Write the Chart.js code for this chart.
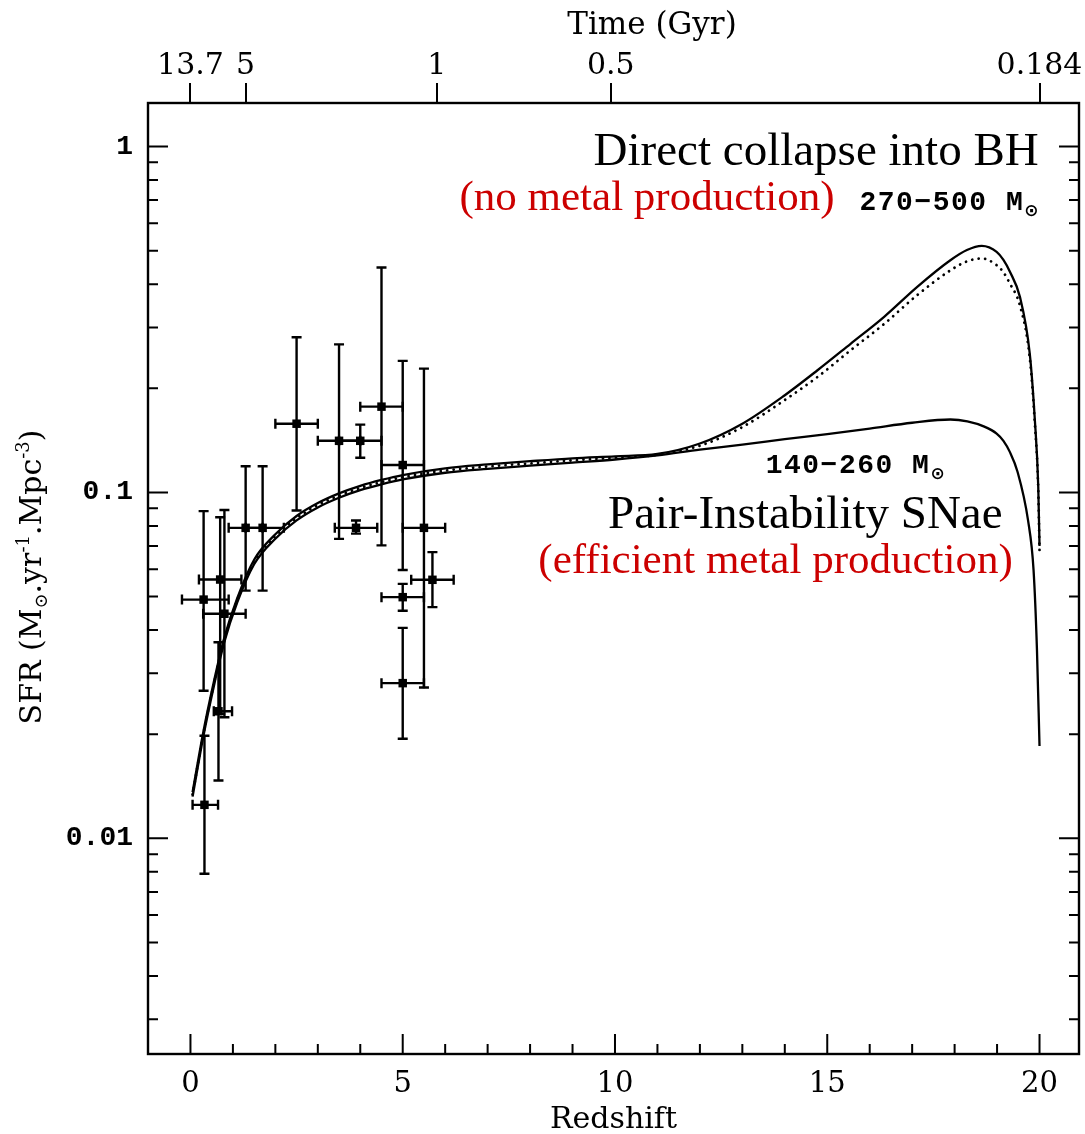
<!DOCTYPE html>
<html lang="en">
<head>
<meta charset="UTF-8">
<title>SFR vs redshift</title>
<script src="https://cdn.jsdelivr.net/npm/chart.js"></script>
<style>
  html, body { margin: 0; padding: 0; background: #fff; }
  #wrap { width: 1085px; height: 1134px; }
</style>
</head>
<body>
<div id="wrap"><canvas id="sfrChart" width="1085" height="1134"></canvas></div>
<script>
// observed SFR points (redshift, SFR) with their error ranges
const obsZ      = [0.33, 0.31, 0.70, 0.80, 0.66, 1.30, 1.70, 2.50, 3.50, 4.00, 3.90, 4.50, 5.00, 5.50, 5.70, 5.00, 5.00];
const obsZLo    = [0.05, -0.20, 0.20, 0.30, 0.55, 0.90, 1.30, 2.00, 3.00, 3.50, 3.40, 4.00, 4.50, 5.00, 5.20, 4.50, 4.50];
const obsZHi    = [0.65, 0.90, 1.20, 1.30, 0.98, 1.70, 2.20, 3.00, 4.00, 4.50, 4.40, 5.00, 5.50, 6.00, 6.20, 5.50, 5.50];
const obsSfr    = [0.0125, 0.0490, 0.0560, 0.0446, 0.0233, 0.0790, 0.0790, 0.158, 0.141, 0.141, 0.0790, 0.177, 0.120, 0.0790, 0.0559, 0.0498, 0.0281];
const obsSfrLo  = [0.0079, 0.0267, 0.0229, 0.0224, 0.0147, 0.0520, 0.0520, 0.0887, 0.0734, 0.126, 0.0760, 0.0703, 0.0597, 0.0273, 0.0466, 0.0455, 0.0194];
const obsSfrHi  = [0.0198, 0.0883, 0.0848, 0.0890, 0.0369, 0.119, 0.119, 0.281, 0.268, 0.157, 0.0830, 0.447, 0.240, 0.228, 0.0672, 0.0544, 0.0406];

// model: 140-260 Msun (pair-instability SNe)
const pisnZ   = [0.05, 0.3, 0.55, 0.8, 1.1, 1.5, 2.0, 2.5, 3.0, 3.5, 4.0, 4.5, 5.0, 6.0, 7.0, 8.0, 9.0, 10.0, 11.0, 12.0, 13.0, 14.0, 15.0, 16.0, 17.0, 17.9, 18.3, 18.7, 18.99, 19.15, 19.3, 19.48, 19.73, 19.86, 19.94, 20.0];
const pisnSfr = [0.0132, 0.0196, 0.0275, 0.0370, 0.0480, 0.0620, 0.0735, 0.0830, 0.0905, 0.0965, 0.1015, 0.1055, 0.1090, 0.1140, 0.1170, 0.1195, 0.1220, 0.1245, 0.1280, 0.1330, 0.1375, 0.1425, 0.1475, 0.1530, 0.1590, 0.1625, 0.1605, 0.1550, 0.1480, 0.1410, 0.1310, 0.1150, 0.0830, 0.0595, 0.0350, 0.0185];

// model: 270-500 Msun (direct collapse), solid and dotted variants
const bhZ      = [0.05, 0.3, 0.55, 0.8, 1.1, 1.5, 2.0, 2.5, 3.0, 3.5, 4.0, 4.5, 5.0, 6.0, 7.0, 8.0, 9.0, 10.0, 11.0, 12.0, 13.0, 14.0, 14.77, 15.55, 16.34, 17.12, 17.9, 18.29, 18.64, 18.99, 19.15, 19.3, 19.54, 19.77, 19.89, 19.97, 20.0];
const bhSfr    = [0.0136, 0.0202, 0.0283, 0.0381, 0.0494, 0.0639, 0.0757, 0.0855, 0.0932, 0.0994, 0.1045, 0.1087, 0.1123, 0.1174, 0.1205, 0.1231, 0.1255, 0.1272, 0.1292, 0.1385, 0.1580, 0.1910, 0.2255, 0.2690, 0.3220, 0.3930, 0.4690, 0.5020, 0.5160, 0.4960, 0.4700, 0.4350, 0.3670, 0.2520, 0.1620, 0.1040, 0.0700];
const bhDotSfr = [0.0134, 0.0199, 0.0279, 0.0376, 0.0487, 0.0629, 0.0746, 0.0842, 0.0919, 0.0979, 0.1030, 0.1071, 0.1106, 0.1157, 0.1188, 0.1213, 0.1238, 0.1260, 0.1285, 0.1365, 0.1545, 0.1850, 0.2157, 0.2576, 0.3070, 0.3720, 0.4385, 0.4654, 0.4745, 0.4540, 0.4330, 0.4020, 0.3467, 0.2450, 0.1580, 0.1020, 0.0680];

// axis ticks
const zTicks = [0, 5, 10, 15, 20];
const sfrTicks = [0.01, 0.1, 1];
const timeTickZ = [0, 1.3, 5.8, 9.9, 20];
const timeTickLabels = ['13.7', '5', '1', '0.5', '0.184'];

const Z_MIN = -1, Z_MAX = 20.93;
const SFR_MIN = 0.00238, SFR_MAX = 1.336;

const serif = "'DejaVu Serif', 'Liberation Serif', serif";
const mono = "'Liberation Mono', monospace";
const RED = '#cc0000';

function pts(xs, ys) {
    return xs.map((v, i) => ({ x: v, y: ys[i] }));
}

// frame, inward ticks, error bars and labels
const sfrPlot = {
    id: 'sfrPlot',
    afterDatasetsDraw(chart) {
        const { ctx, chartArea: a, scales: { x, y } } = chart;
        ctx.save();
        ctx.beginPath();
        ctx.rect(a.left, a.top, a.right - a.left, a.bottom - a.top);
        ctx.clip();
        ctx.strokeStyle = '#000';
        ctx.lineWidth = 2.4;
        const cap = 5;
        obsZ.forEach((z, i) => {
            const px = x.getPixelForValue(z);
            const py = y.getPixelForValue(obsSfr[i]);
            const x0 = x.getPixelForValue(obsZLo[i]);
            const x1 = x.getPixelForValue(obsZHi[i]);
            const y0 = y.getPixelForValue(obsSfrLo[i]);
            const y1 = y.getPixelForValue(obsSfrHi[i]);
            ctx.beginPath();
            ctx.moveTo(px, y0); ctx.lineTo(px, y1);
            ctx.moveTo(px - cap, y0); ctx.lineTo(px + cap, y0);
            ctx.moveTo(px - cap, y1); ctx.lineTo(px + cap, y1);
            ctx.moveTo(x0, py); ctx.lineTo(x1, py);
            ctx.moveTo(x0, py - cap); ctx.lineTo(x0, py + cap);
            ctx.moveTo(x1, py - cap); ctx.lineTo(x1, py + cap);
            ctx.stroke();
        });
        ctx.restore();
    },
    afterDraw(chart) {
        const { ctx, chartArea: a, scales: { x, y } } = chart;
        ctx.save();
        ctx.strokeStyle = '#000';
        ctx.lineWidth = 2.4;
        ctx.strokeRect(a.left, a.top, a.right - a.left, a.bottom - a.top);

        // redshift ticks along the bottom, pointing in
        ctx.lineWidth = 2;
        ctx.beginPath();
        for (let z = 0; z <= 20; z++) {
            const px = x.getPixelForValue(z);
            const len = z % 5 === 0 ? 20 : 10;
            ctx.moveTo(px, a.bottom); ctx.lineTo(px, a.bottom - len);
        }
        // log ticks on both sides
        for (let k = -3; k <= 0; k++) {
            for (let d = 1; d <= 9; d++) {
                const v = d * Math.pow(10, k);
                if (v < SFR_MIN || v > SFR_MAX) continue;
                const py = y.getPixelForValue(v);
                const len = d === 1 ? 20 : 10;
                ctx.moveTo(a.left, py); ctx.lineTo(a.left + len, py);
                ctx.moveTo(a.right, py); ctx.lineTo(a.right - len, py);
            }
        }
        ctx.stroke();

        // top axis title
        ctx.fillStyle = '#000';
        ctx.font = '31px ' + serif;
        ctx.textAlign = 'center';
        ctx.textBaseline = 'alphabetic';
        ctx.fillText('Time (Gyr)', 652, 34);

        // y axis title
        ctx.save();
        ctx.translate(41, 577);
        ctx.rotate(-Math.PI / 2);
        const parts = [
            { t: 'SFR (M', s: 30, dy: 0 },
            { t: '\u2299', s: 18, dy: 6 },
            { t: '.yr', s: 30, dy: 0 },
            { t: '-1', s: 18, dy: -12 },
            { t: '.Mpc', s: 30, dy: 0 },
            { t: '-3', s: 18, dy: -12 },
            { t: ')', s: 30, dy: 0 }
        ];
        let total = 0;
        parts.forEach(p => { ctx.font = p.s + 'px ' + serif; p.w = ctx.measureText(p.t).width; total += p.w; });
        let cx = -total / 2;
        ctx.textAlign = 'left';
        ctx.textBaseline = 'alphabetic';
        parts.forEach(p => {
            ctx.font = p.s + 'px ' + serif;
            ctx.fillText(p.t, cx, p.dy);
            cx += p.w;
        });
        ctx.restore();

        // curve and regime labels
        const put = (text, z, v, align, font, color) => {
            ctx.font = font;
            ctx.fillStyle = color;
            ctx.textAlign = align;
            ctx.textBaseline = 'alphabetic';
            ctx.fillText(text, x.getPixelForValue(z), y.getPixelForValue(v));
        };
        const massLabel = (text, z, v) => {
            const px = x.getPixelForValue(z), py = y.getPixelForValue(v);
            ctx.font = 'bold 28px ' + mono;
            ctx.letterSpacing = '1.5px';
            ctx.fillStyle = '#000';
            ctx.textAlign = 'left';
            ctx.textBaseline = 'alphabetic';
            ctx.fillText(text, px, py);
            const w = ctx.measureText(text).width;
            ctx.letterSpacing = '0px';
            ctx.font = "bold 17px 'DejaVu Sans'";
            ctx.fillText('\u2299', px + w, py + 6);
        };
        put('Direct collapse into BH', 19.98, 0.884, 'right', "47px 'Liberation Serif'", '#000');
        put('(no metal production)', 15.17, 0.655, 'right', "43px 'Liberation Serif'", RED);
        massLabel('270\u2212500 M', 15.76, 0.655);
        massLabel('140\u2212260 M', 13.55, 0.1135);
        put('Pair-Instability SNae', 19.13, 0.0787, 'right', "47px 'Liberation Serif'", '#000');
        put('(efficient metal production)', 19.37, 0.0583, 'right', "43px 'Liberation Serif'", RED);
        ctx.restore();
    }
};

const ctx = document.getElementById('sfrChart').getContext('2d');
const sfrChart = new Chart(ctx, {
    type: 'line',
    data: {
        datasets: [
            {
                label: '140-260 Msun',
                data: pts(pisnZ, pisnSfr),
                borderColor: '#000',
                borderWidth: 2.3,
                pointRadius: 0,
                cubicInterpolationMode: 'monotone'
            },
            {
                label: '270-500 Msun',
                data: pts(bhZ, bhSfr),
                borderColor: '#000',
                borderWidth: 2.3,
                pointRadius: 0,
                cubicInterpolationMode: 'monotone'
            },
            {
                label: '270-500 Msun (dotted)',
                data: pts(bhZ, bhDotSfr),
                borderColor: '#000',
                borderWidth: 2.8,
                borderDash: [0.01, 6.5],
                borderCapStyle: 'round',
                pointRadius: 0,
                cubicInterpolationMode: 'monotone'
            },
            {
                label: 'data',
                data: pts(obsZ, obsSfr),
                showLine: false,
                pointStyle: 'rect',
                pointRadius: 6,
                pointBackgroundColor: '#000',
                pointBorderColor: '#000',
                pointBorderWidth: 0
            }
        ]
    },
    options: {
        responsive: false,
        devicePixelRatio: 1,
        animation: false,
        layout: { padding: { left: 0, right: 2, top: 0, bottom: 0 } },
        plugins: {
            legend: { display: false },
            tooltip: { enabled: false }
        },
        scales: {
            x: {
                type: 'linear',
                position: 'bottom',
                min: Z_MIN,
                max: Z_MAX,
                afterFit(s) { s.height = 80; },
                afterBuildTicks(s) { s.ticks = zTicks.map(v => ({ value: v })); },
                grid: { display: false, drawTicks: false },
                border: { display: false },
                ticks: {
                    color: '#000',
                    padding: 13,
                    maxRotation: 0,
                    autoSkip: false,
                    font: { family: serif, size: 29 },
                    callback: v => String(v)
                },
                title: {
                    display: true,
                    text: 'Redshift',
                    color: '#000',
                    font: { family: serif, size: 30 },
                    padding: { top: 0, bottom: -4 }
                }
            },
            x2: {
                type: 'linear',
                position: 'top',
                min: Z_MIN,
                max: Z_MAX,
                afterFit(s) { s.height = 103; },
                afterBuildTicks(s) { s.ticks = timeTickZ.map(v => ({ value: v })); },
                grid: { display: true, drawOnChartArea: false, drawTicks: true, tickLength: 20, color: '#000', lineWidth: 2 },
                border: { display: false },
                ticks: {
                    color: '#000',
                    padding: -1,
                    maxRotation: 0,
                    autoSkip: false,
                    font: { family: serif, size: 30 },
                    callback: (v, i) => timeTickLabels[i]
                }
            },
            y: {
                type: 'logarithmic',
                position: 'left',
                min: SFR_MIN,
                max: SFR_MAX,
                afterFit(s) { s.width = 148; },
                afterBuildTicks(s) { s.ticks = sfrTicks.map(v => ({ value: v })); },
                grid: { display: false, drawTicks: false },
                border: { display: false },
                ticks: {
                    color: '#000',
                    padding: 15,
                    autoSkip: false,
                    font: { family: mono, size: 28, weight: 'bold' },
                    callback: v => String(v)
                }
            }
        }
    },
    plugins: [sfrPlot]
});
</script>
</body>
</html>
